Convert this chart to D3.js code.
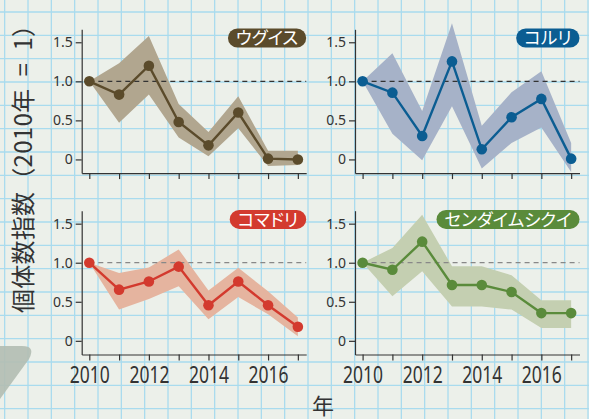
<!DOCTYPE html>
<html>
<head>
<meta charset="utf-8">
<script src="https://cdn.jsdelivr.net/npm/d3@7"></script>
<style>
  body { margin: 0; background: #ecf0ea; }
  svg { display: block; }
</style>
</head>
<body>
<script>
// data
const years = [2010, 2011, 2012, 2013, 2014, 2015, 2016, 2017];
const yearLabels = [2010, 2012, 2014, 2016];
const yTicks = [0, 0.5, 1.0, 1.5];
const species = ["ウグイス", "コルリ", "コマドリ", "センダイムシクイ"];

const uguisu   = [1.0, 0.83, 1.20, 0.48, 0.18, 0.60, 0.01, 0.0];
const uguisuLo = [1.0, 0.47, 0.83, 0.28, 0.04, 0.40, -0.085, -0.07];
const uguisuHi = [1.0, 1.23, 1.58, 0.71, 0.35, 0.81, 0.11, 0.11];

const koruri   = [1.0, 0.855, 0.30, 1.255, 0.13, 0.54, 0.775, 0.01];
const koruriLo = [1.0, 0.33, -0.01, 0.68, -0.115, 0.21, 0.41, -0.16];
const koruriHi = [1.0, 1.36, 0.62, 1.745, 0.43, 0.86, 1.13, 0.21];

const komadori   = [1.0, 0.655, 0.76, 0.95, 0.455, 0.76, 0.455, 0.18];
const komadoriLo = [1.0, 0.40, 0.535, 0.70, 0.275, 0.56, 0.34, 0.06];
const komadoriHi = [1.0, 0.87, 0.94, 1.17, 0.645, 0.935, 0.635, 0.30];

const sendai   = [1.0, 0.91, 1.27, 0.715, 0.715, 0.625, 0.355, 0.355];
const sendaiLo = [1.0, 0.57, 0.89, 0.44, 0.44, 0.40, 0.165, 0.165];
const sendaiHi = [1.0, 1.19, 1.615, 0.955, 0.955, 0.84, 0.52, 0.52];

const W = 589, H = 419;
var svg = d3.select("body").append("svg").attr("width", W).attr("height", H);

// graph paper background
svg.append("rect").attr("width", W).attr("height", H).attr("fill", "#ecf0ea");
const step = 70 / 3;
svg.append("g").selectAll("line").data(d3.range(4.67, W, step)).join("line")
  .attr("x1", d => d).attr("x2", d => d).attr("y1", 0).attr("y2", H)
  .attr("stroke", "#a9dbee").attr("stroke-width", 1.3);
svg.append("g").selectAll("line").data(d3.range(12 - step, H, step)).join("line")
  .attr("y1", d => d).attr("y2", d => d).attr("x1", 0).attr("x2", W)
  .attr("stroke", "#a9dbee").attr("stroke-width", 1.3);

// gray blob bottom left
svg.append("path")
  .attr("d", "M0,346 H22 Q36,346 29,359 L0,399 Z")
  .attr("fill", "#b3beb3").attr("opacity", 0.92);

const panels = [
  {name: species[0], v: uguisu, lo: uguisuLo, hi: uguisuHi, line: "#5b4b2b", band: "#b1a68f", x0: 81.7, y0: 29.3, dash: "#333"},
  {name: species[1], v: koruri, lo: koruriLo, hi: koruriHi, line: "#0b5d92", band: "#a6b2c8", x0: 355, y0: 29.3, dash: "#333"},
  {name: species[2], v: komadori, lo: komadoriLo, hi: komadoriHi, line: "#d33a2e", band: "#e5b49f", x0: 81.7, y0: 210.7, dash: "#888"},
  {name: species[3], v: sendai, lo: sendaiLo, hi: sendaiHi, line: "#5a8b3b", band: "#c4cfb1", x0: 355, y0: 210.7, dash: "#888"}
];
const pw = 224.5, ph = 143.8;

panels.forEach(function(p, i) {
  var x = d3.scaleLinear().domain([2009.745, 2017.28]).range([p.x0, p.x0 + pw]);
  var y = d3.scaleLinear().domain([-0.175, 1.666]).range([p.y0 + ph, p.y0]);
  var g = svg.append("g");

  var rows = years.map((yr, k) => ({yr: yr, v: p.v[k], lo: p.lo[k], hi: p.hi[k]}));

  g.append("path").datum(rows)
    .attr("d", d3.area().x(d => x(d.yr)).y0(d => y(d.lo)).y1(d => y(d.hi)))
    .attr("fill", p.band);

  g.append("line")
    .attr("x1", x(2010)).attr("x2", p.x0 + pw)
    .attr("y1", y(1)).attr("y2", y(1))
    .attr("stroke", p.dash).attr("stroke-width", 1.2).attr("stroke-dasharray", "5,4");

  g.append("path").datum(rows)
    .attr("d", d3.line().x(d => x(d.yr)).y(d => y(d.v)))
    .attr("fill", "none").attr("stroke", p.line).attr("stroke-width", 2.4);

  g.selectAll("circle").data(rows).join("circle")
    .attr("cx", d => x(d.yr)).attr("cy", d => y(d.v)).attr("r", 5.3)
    .attr("fill", p.line);

  // axes
  var ya = g.append("g").attr("transform", "translate(" + p.x0 + ",0)")
    .call(d3.axisLeft(y).tickValues(yTicks).tickSize(6).tickSizeOuter(0)
      .tickFormat(d => d === 0 ? "0" : d.toFixed(1)));
  ya.selectAll("text").attr("font-family", "Noto Sans").attr("font-size", 14).attr("fill", "#333");

  var bottom = i >= 2;
  var xa = g.append("g").attr("transform", "translate(0," + (p.y0 + ph) + ")")
    .call(d3.axisBottom(x).tickValues(years).tickSize(6).tickSizeOuter(0)
      .tickFormat(d => bottom && yearLabels.includes(d) ? String(d) : ""));
  xa.selectAll("text").attr("font-family", "Noto Sans").attr("font-size", 24)
    .attr("fill", "#333").attr("y", 11)
    .filter(function() { return this.textContent !== ""; })
    .attr("textLength", 40).attr("lengthAdjust", "spacingAndGlyphs");

  [ya, xa].forEach(a => {
    a.selectAll("path,line").attr("stroke", "#333").attr("stroke-width", 1.2);
  });

  // name pill
  var pill = g.append("g");
  var t = pill.append("text").text(p.name)
    .attr("font-family", "Noto Sans CJK JP").attr("font-size", 17.5)
    .style("font-feature-settings", "'palt'")
    .attr("fill", "#fff").attr("text-anchor", "middle");
  var tw = t.node().getComputedTextLength() + 16;
  var right = p.x0 + pw;
  var top = p.y0 - 0.8;
  pill.insert("rect", "text")
    .attr("x", right - tw).attr("y", top).attr("width", tw).attr("height", 19)
    .attr("rx", 9.5).attr("fill", p.line);
  t.attr("x", right - tw / 2).attr("y", top + 9.5).attr("dy", "0.36em");
});

// axis titles
svg.append("text")
  .attr("transform", "translate(24,163) rotate(-90)")
  .attr("text-anchor", "middle").attr("dy", "0.35em")
  .attr("font-family", "Noto Sans CJK JP").attr("font-size", 24).attr("fill", "#333")
  .attr("textLength", 300).attr("lengthAdjust", "spacing")
  .text("個体数指数（2010年\u2002=\u20021）");

svg.append("text")
  .attr("x", 323).attr("y", 414)
  .attr("text-anchor", "middle")
  .attr("font-family", "Noto Sans CJK JP").attr("font-size", 22).attr("fill", "#333")
  .text("年");
</script>
</body>
</html>
